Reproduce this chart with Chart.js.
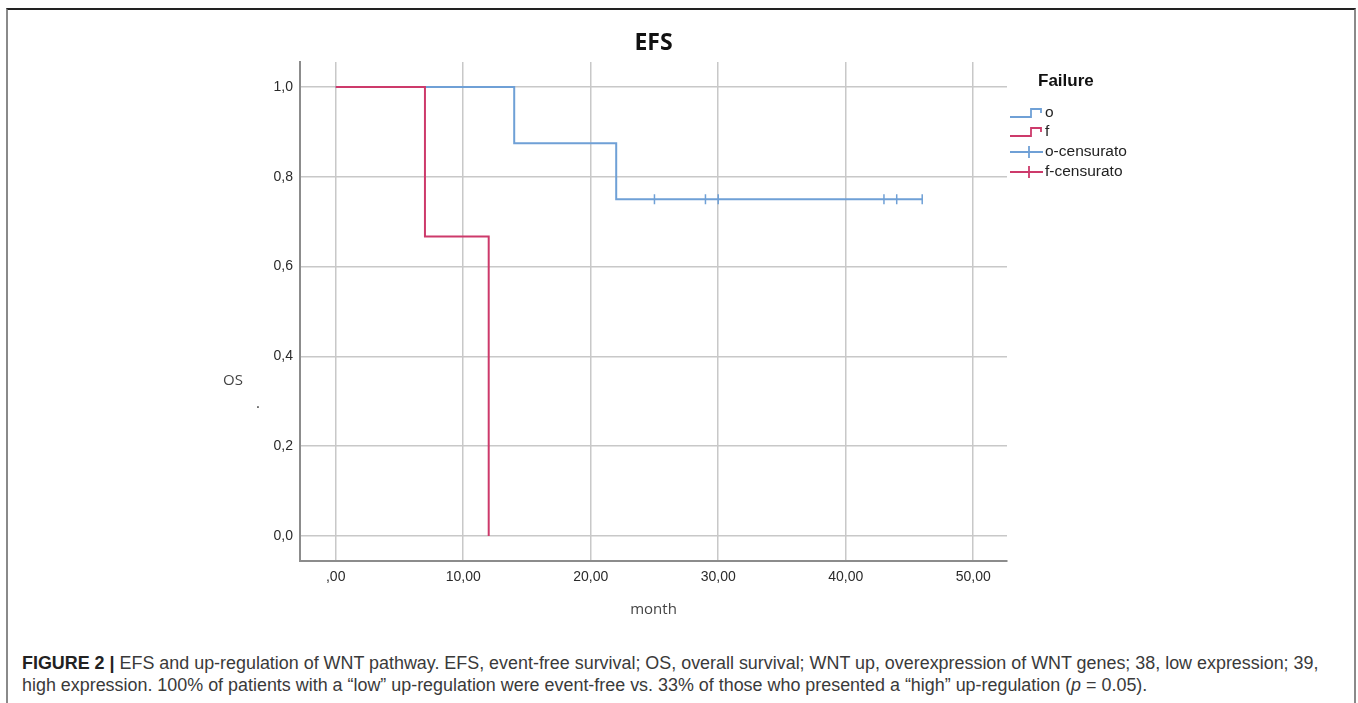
<!DOCTYPE html>
<html>
<head>
<meta charset="utf-8">
<script src="https://cdn.jsdelivr.net/npm/chart.js@4"></script>
<style>
    body { margin: 0; background: #fff; width: 1358px; height: 703px; overflow: hidden; position: relative; }
    #frame {
        position: absolute; left: 6px; top: 8px; width: 1346px; height: 700px;
        border-top: 2px solid #222; border-left: 2px solid #8a8a8a; border-right: 2px solid #8a8a8a;
    }
    #chart { position: absolute; left: 0; top: 0; }
    #caption {
        position: absolute; left: 22px; top: 652px;
        font-family: "Liberation Sans", Arial, sans-serif; font-size: 15px; line-height: 22px; color: #3a3a3a;
    }
    #caption span { white-space: nowrap; display: inline-block; }
    #caption b { color: #222; }
</style>
</head>
<body>
<div id="frame"></div>
<canvas id="chart" width="1358" height="625"></canvas>
<div id="caption"><span id="line1"><b>FIGURE 2 |</b> EFS and up-regulation of WNT pathway. EFS, event-free survival; OS, overall survival; WNT up, overexpression of WNT genes; 38, low expression; 39,</span><br><span id="line2">high expression. 100% of patients with a “low” up-regulation were event-free vs. 33% of those who presented a “high” up-regulation (<i>p</i> = 0.05).</span></div>

<script>
// -------- Data --------
const oTimes = [0, 14, 22, 46];
const oSurv = [1, 0.875, 0.75, 0.75];
const fTimes = [0, 7, 12];
const fSurv = [1, 0.667, 0];
const oCensorTimes = [25, 29, 30, 43, 44, 46];
const oCensorSurv = [0.75, 0.75, 0.75, 0.75, 0.75, 0.75];
const fCensorTimes = [];
const fCensorSurv = [];

const xTickValues = [0, 10, 20, 30, 40, 50];
const xTickLabels = [",00", "10,00", "20,00", "30,00", "40,00", "50,00"];
const yTickValues = [0, 0.2, 0.4, 0.6, 0.8, 1.0];
const yTickLabels = ["0,0", "0,2", "0,4", "0,6", "0,8", "1,0"];

const seriesNames = ["o", "f", "o-censurato", "f-censurato"];
const BLUE = "#6fa0d6";
const RED = "#cd3a6b";

const toPoints = (xs, ys) => xs.map((x, i) => ({ x: x, y: ys[i] }));

// -------- Extras: title, axis labels, legend --------
const extras = {
    id: "extras",
    afterDraw(chart) {
        const ctx = chart.ctx;
        const area = chart.chartArea;
        ctx.save();

        ctx.fillStyle = "#111";
        ctx.font = "bold 23px 'Open Sans'";
        ctx.textAlign = "center";
        ctx.textBaseline = "middle";
        ctx.fillText("EFS", (area.left + area.right) / 2, 43);

        ctx.fillStyle = "#444";
        ctx.font = "15px 'Open Sans'";
        ctx.fillText("OS", 233, 381);
        ctx.fillText("month", (area.left + area.right) / 2, 610);
        ctx.fillText(".", 258, 404);

        // legend
        ctx.textAlign = "left";
        ctx.fillStyle = "#111";
        ctx.font = "bold 17px 'Liberation Sans'";
        ctx.fillText("Failure", 1038, 81);

        ctx.font = "15.5px 'Liberation Sans'";
        const rows = [113, 132, 152, 172];
        const cols = [BLUE, RED, BLUE, RED];
        rows.forEach((y, i) => {
            ctx.strokeStyle = cols[i];
            ctx.lineWidth = 1.8;
            ctx.beginPath();
            if (i < 2) {
                ctx.moveTo(1010, y + 4);
                ctx.lineTo(1031, y + 4);
                ctx.lineTo(1031, y - 4);
                ctx.lineTo(1041, y - 4);
                ctx.lineTo(1041, y);
            } else {
                ctx.moveTo(1010, y);
                ctx.lineTo(1043, y);
                ctx.moveTo(1029, y - 6);
                ctx.lineTo(1029, y + 6);
            }
            ctx.stroke();
            ctx.fillStyle = "#222";
            ctx.fillText(seriesNames[i], 1045, y);
        });
        ctx.restore();
    }
};

new Chart(document.getElementById("chart"), {
    type: "scatter",
    data: {
        datasets: [
            {
                label: seriesNames[0], data: toPoints(oTimes, oSurv), showLine: true, stepped: true,
                borderColor: BLUE, borderWidth: 2, pointRadius: 0, fill: false, order: 2
            },
            {
                label: seriesNames[1], data: toPoints(fTimes, fSurv), showLine: true, stepped: true,
                borderColor: RED, borderWidth: 2, pointRadius: 0, fill: false, order: 1
            },
            {
                label: seriesNames[2], data: toPoints(oCensorTimes, oCensorSurv), showLine: false,
                pointStyle: "line", rotation: 90, pointRadius: 5, borderColor: BLUE, borderWidth: 1.5, order: 0
            },
            {
                label: seriesNames[3], data: toPoints(fCensorTimes, fCensorSurv), showLine: false,
                pointStyle: "line", rotation: 90, pointRadius: 5, borderColor: RED, borderWidth: 1.5, order: 0
            }
        ]
    },
    options: {
        responsive: false,
        animation: false,
        devicePixelRatio: 1,
        layout: { padding: { top: 62, right: 351, left: 0, bottom: 0 } },
        plugins: { legend: { display: false }, tooltip: { enabled: false } },
        scales: {
            x: {
                type: "linear", min: -2.8, max: 52.65,
                afterBuildTicks: (s) => { s.ticks = xTickValues.map(v => ({ value: v })); },
                afterFit: (s) => { s.height = 64; },
                grid: { color: "#c8c8c8", lineWidth: 1.5, drawTicks: false },
                border: { display: true, color: "#8c8c8c", width: 2 },
                ticks: {
                    padding: 8, color: "#2a2a2a", font: { family: "Liberation Sans", size: 14 },
                    maxRotation: 0,
                    callback: (v) => xTickLabels[xTickValues.indexOf(v)]
                }
            },
            y: {
                type: "linear", min: -0.0557, max: 1.0557,
                afterBuildTicks: (s) => { s.ticks = yTickValues.map(v => ({ value: v })); },
                afterFit: (s) => { s.width = 300; },
                grid: { color: "#c8c8c8", lineWidth: 1.5, drawTicks: false },
                border: { display: true, color: "#8c8c8c", width: 2 },
                ticks: {
                    padding: 7, color: "#2a2a2a", font: { family: "Liberation Sans", size: 14 },
                    callback: (v) => yTickLabels[yTickValues.findIndex(t => Math.abs(t - v) < 1e-6)]
                }
            }
        }
    },
    plugins: [extras]
});

// -------- Caption fit --------
const line1 = document.getElementById("line1");
const w = line1.getBoundingClientRect().width;
document.getElementById("caption").style.fontSize = (15 * 1297 / w) + "px";
</script>
</body>
</html>
